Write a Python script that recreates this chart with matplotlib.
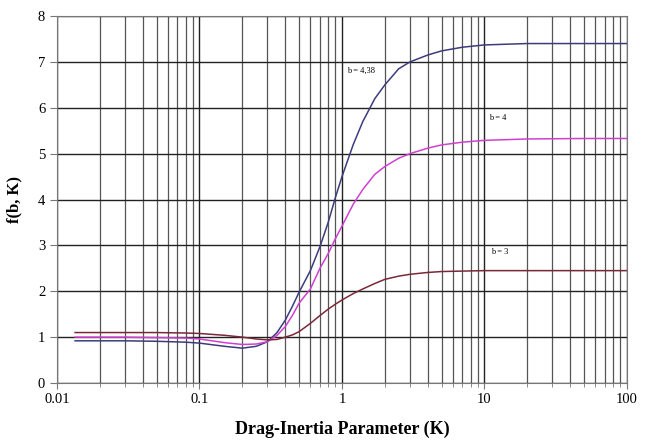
import matplotlib.pyplot as plt
from matplotlib.ticker import LogLocator, NullFormatter, FixedLocator

# Drag-inertia parameter values
K = [0.0134, 0.03, 0.05, 0.08, 0.1, 0.15, 0.2, 0.25, 0.3, 0.35, 0.4, 0.45, 0.5, 0.6, 0.7,
     0.8, 0.9, 1.0, 1.2, 1.4, 1.7, 2.0, 2.5, 3.0, 4.0, 5.0, 7.0, 10, 20, 50, 100]

f_b438 = [0.92, 0.92, 0.91, 0.89, 0.87, 0.80, 0.76, 0.80, 0.90, 1.10, 1.37, 1.68, 1.98, 2.45, 2.97,
          3.5, 4.05, 4.5, 5.2, 5.7, 6.2, 6.5, 6.85, 7.0, 7.15, 7.24, 7.32, 7.37, 7.40, 7.40, 7.40]
f_b4 = [1.0, 1.0, 0.99, 0.98, 0.96, 0.88, 0.84, 0.85, 0.90, 1.04, 1.23, 1.48, 1.74, 2.05, 2.5,
        2.82, 3.15, 3.42, 3.9, 4.22, 4.55, 4.72, 4.9, 5.0, 5.12, 5.19, 5.25, 5.29, 5.32, 5.33, 5.33]
f_b3 = [1.10, 1.10, 1.10, 1.09, 1.08, 1.04, 1.0, 0.96, 0.94, 0.95, 1.0, 1.05, 1.12, 1.30, 1.47,
        1.61, 1.72, 1.81, 1.95, 2.05, 2.17, 2.26, 2.33, 2.37, 2.41, 2.43, 2.44, 2.45, 2.45, 2.45, 2.45]

plt.rcParams['font.family'] = ['Liberation Serif', 'DejaVu Serif']

fig = plt.figure(figsize=(6.46, 4.40), dpi=100)
ax = fig.add_axes([0.0882, 0.1295, 0.8824, 0.8341])

ax.plot(K, f_b438, color='#3c3c7c', lw=1.1)
ax.plot(K, f_b4, color='#d040d0', lw=1.1)
ax.plot(K, f_b3, color='#7a2838', lw=1.1)

ax.text(1.08, 6.80, 'b = 4,38', fontsize=6, va='center')
ax.text(10.8, 5.77, 'b = 4', fontsize=6, va='center')
ax.text(11.1, 2.85, 'b = 3', fontsize=6, va='center')

ax.set_xscale('log')
ax.set_xlim(0.01, 100)
ax.set_ylim(0, 8)
ax.set_xticks([0.01, 0.1, 1, 10, 100])
ax.set_xticklabels(['0.01', '0.1', '1', '10', '100'])
ax.xaxis.set_minor_locator(LogLocator(base=10, subs=range(2, 10)))
ax.xaxis.set_minor_formatter(NullFormatter())
ax.yaxis.set_major_locator(FixedLocator(range(0, 9)))

ax.grid(True, which='major', color='#222222', lw=1.0)
ax.grid(True, which='minor', axis='x', color='#555555', lw=0.9)
ax.set_axisbelow(True)

for s in ax.spines.values():
    s.set_color('#777777')
ax.tick_params(axis='both', which='both', labelsize=10.5, color='#777777', direction='out')
ax.tick_params(axis='x', which='major', length=4)
ax.tick_params(axis='x', which='minor', length=3)
ax.tick_params(axis='y', length=5)

ax.set_xlabel('Drag-Inertia Parameter (K)', fontsize=13, fontweight='bold', labelpad=10)
ax.set_ylabel('f(b, K)', fontsize=12, fontweight='bold', labelpad=11)

plt.savefig('out.png', dpi=100)
